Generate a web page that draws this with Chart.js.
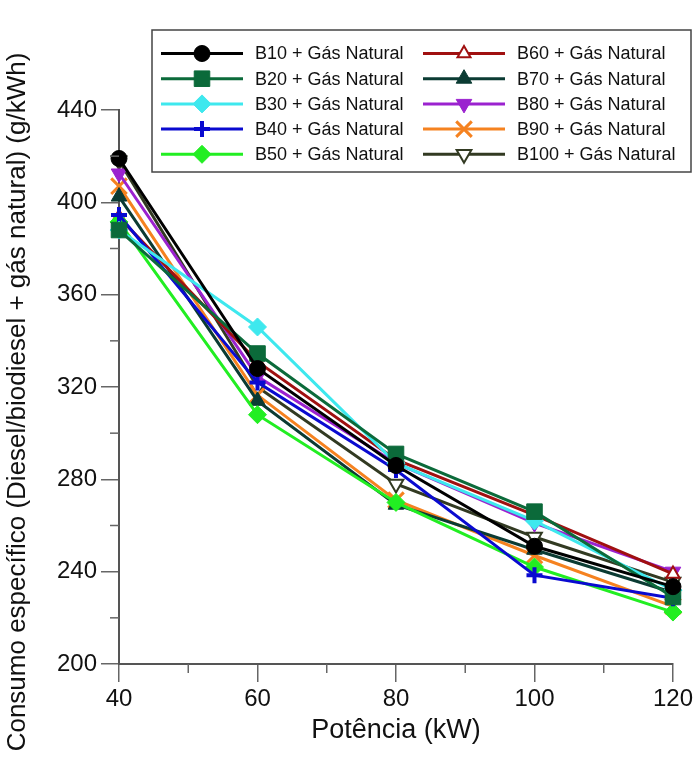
<!DOCTYPE html>
<html>
<head>
<meta charset="utf-8">
<script src="https://cdn.jsdelivr.net/npm/chart.js@4.4.1/dist/chart.umd.min.js"></script>
<style>
  html, body { margin: 0; padding: 0; background: #fff; }
  #wrap { width: 696px; height: 763px; }
</style>
</head>
<body>
<div id="wrap"><canvas id="myChart" width="696" height="763"></canvas></div>
<script>
// potência (kW) on x, consumo específico (g/kWh) on y
const potencia = [40, 60, 80, 100, 120];
const xTicks = [40, 60, 80, 100, 120];
const yTicks = [200, 240, 280, 320, 360, 400, 440];

const labels = [
  'B10 + Gás Natural', 'B20 + Gás Natural', 'B30 + Gás Natural', 'B40 + Gás Natural', 'B50 + Gás Natural',
  'B60 + Gás Natural', 'B70 + Gás Natural', 'B80 + Gás Natural', 'B90 + Gás Natural', 'B100 + Gás Natural'
];
const b10 = [419, 328, 286, 251, 233.5];
const b20 = [388, 334.5, 291, 266, 229];
const b30 = [388, 346, 287, 262, 232];
const b40 = [394.5, 322, 284, 238.5, 228.5];
const b50 = [391.5, 308, 270, 242, 222.5];
const b60 = [393.5, 331, 288.5, 264.5, 239];
const b70 = [402.5, 314, 269, 249.5, 231];
const b80 = [412.5, 324.5, 287, 261, 240];
const b90 = [407, 316.5, 271, 247, 225];
const b100 = [418, 320, 278, 255, 235.5];
const allSeries = [b10, b20, b30, b40, b50, b60, b70, b80, b90, b100];

// marker look per series
const styles = [
  { color: '#000000', fill: '#000000', shape: 'circle', radius: 8, rot: 0, bw: 1 },
  { color: '#0b6a3a', fill: '#0b6a3a', shape: 'rect', radius: 11, rot: 0, bw: 1 },
  { color: '#3ee8ee', fill: '#3ee8ee', shape: 'rectRot', radius: 9, rot: 0, bw: 1 },
  { color: '#0a0ad0', fill: '#0a0ad0', shape: 'cross', radius: 8, rot: 0, bw: 4 },
  { color: '#22ee22', fill: '#22ee22', shape: 'rectRot', radius: 9, rot: 0, bw: 1 },
  { color: '#a01010', fill: '#ffffff', shape: 'triangle', radius: 7.5, rot: 0, bw: 2 },
  { color: '#0b3b33', fill: '#0b3b33', shape: 'triangle', radius: 9, rot: 0, bw: 1 },
  { color: '#9b22cf', fill: '#9b22cf', shape: 'triangle', radius: 9, rot: 180, bw: 1 },
  { color: '#f58220', fill: '#f58220', shape: 'crossRot', radius: 11, rot: 0, bw: 3 },
  { color: '#323a22', fill: '#ffffff', shape: 'triangle', radius: 8.5, rot: 180, bw: 2 }
];

const font = 'Liberation Sans, Arial, sans-serif';

const datasets = allSeries.map((vals, i) => ({
  label: labels[i],
  data: vals.map((v, j) => ({ x: potencia[j], y: v })),
  borderColor: styles[i].color,
  backgroundColor: styles[i].fill,
  borderWidth: 3,
  pointStyle: styles[i].shape,
  pointRadius: styles[i].radius,
  pointRotation: styles[i].rot,
  pointBorderWidth: styles[i].bw,
  pointBorderColor: styles[i].color,
  pointBackgroundColor: styles[i].fill,
  tension: 0,
  clip: false
}));

// minor ticks + y title + the boxed two column legend
const extras = {
  id: 'extras',
  afterDraw(chart) {
    const ctx = chart.ctx;
    const xs = chart.scales.x, ys = chart.scales.y;
    ctx.save();
    ctx.strokeStyle = '#666';
    ctx.lineWidth = 1.5;
    [50, 70, 90, 110].forEach(v => {
      const px = xs.getPixelForValue(v);
      ctx.beginPath(); ctx.moveTo(px, ys.bottom); ctx.lineTo(px, ys.bottom + 9); ctx.stroke();
    });
    [220, 260, 300, 340, 380, 420].forEach(v => {
      const py = ys.getPixelForValue(v);
      ctx.beginPath(); ctx.moveTo(xs.left, py); ctx.lineTo(xs.left - 9, py); ctx.stroke();
    });

    ctx.translate(18, 402);
    ctx.rotate(-Math.PI / 2);
    ctx.fillStyle = '#111';
    ctx.font = '26px ' + font;
    ctx.textAlign = 'center';
    ctx.textBaseline = 'middle';
    ctx.fillText('Consumo específico (Diesel/biodiesel + gás natural) (g/kWh)', 0, 0);
    ctx.restore();

    ctx.save();
    ctx.fillStyle = '#fff';
    ctx.fillRect(152, 30, 539, 142);
    ctx.strokeStyle = '#444';
    ctx.lineWidth = 1.5;
    ctx.strokeRect(152, 30, 539, 142);
    ctx.font = '18px ' + font;
    ctx.textBaseline = 'middle';
    ctx.textAlign = 'left';
    chart.data.datasets.forEach((ds, i) => {
      const col = Math.floor(i / 5), row = i % 5;
      const y = 53.5 + row * 25.2;
      const x0 = col ? 423 : 161;
      ctx.strokeStyle = ds.borderColor;
      ctx.lineWidth = 3;
      ctx.beginPath(); ctx.moveTo(x0, y); ctx.lineTo(x0 + 82, y); ctx.stroke();
      ctx.fillStyle = ds.pointBackgroundColor;
      ctx.strokeStyle = ds.pointBorderColor;
      ctx.lineWidth = ds.pointBorderWidth;
      Chart.helpers.drawPoint(ctx, {
        pointStyle: ds.pointStyle, rotation: ds.pointRotation,
        radius: ds.pointRadius, borderWidth: ds.pointBorderWidth
      }, x0 + 41, y);
      ctx.fillStyle = '#111';
      ctx.fillText(ds.label, x0 + 94, y + 1);
    });
    ctx.restore();
  }
};

new Chart(document.getElementById('myChart'), {
  type: 'line',
  data: { datasets },
  options: {
    responsive: false,
    animation: false,
    devicePixelRatio: 1,
    layout: { padding: { top: 110, right: 23, left: 0, bottom: 0 } },
    plugins: { legend: { display: false }, tooltip: { enabled: false } },
    scales: {
      x: {
        type: 'linear', min: 40, max: 120,
        afterFit: s => { s.height = 99; },
        afterBuildTicks: s => { s.ticks = xTicks.map(v => ({ value: v })); },
        grid: { drawOnChartArea: false, tickLength: 18, color: '#666', lineWidth: 1.5 },
        border: { color: '#555', width: 2 },
        ticks: { font: { family: font, size: 24 }, color: '#111', padding: 3, maxRotation: 0 },
        title: { display: true, text: 'Potência (kW)', font: { family: font, size: 27 }, color: '#111', padding: { top: 0, bottom: 16 } }
      },
      y: {
        type: 'linear', min: 200, max: 440,
        afterFit: s => { s.width = 119; },
        afterBuildTicks: s => { s.ticks = yTicks.map(v => ({ value: v })); },
        grid: { drawOnChartArea: false, tickLength: 18, color: '#666', lineWidth: 1.5 },
        border: { color: '#555', width: 2 },
        ticks: { font: { family: font, size: 24 }, color: '#111', padding: 4 }
      }
    }
  },
  plugins: [extras]
});
</script>
</body>
</html>
